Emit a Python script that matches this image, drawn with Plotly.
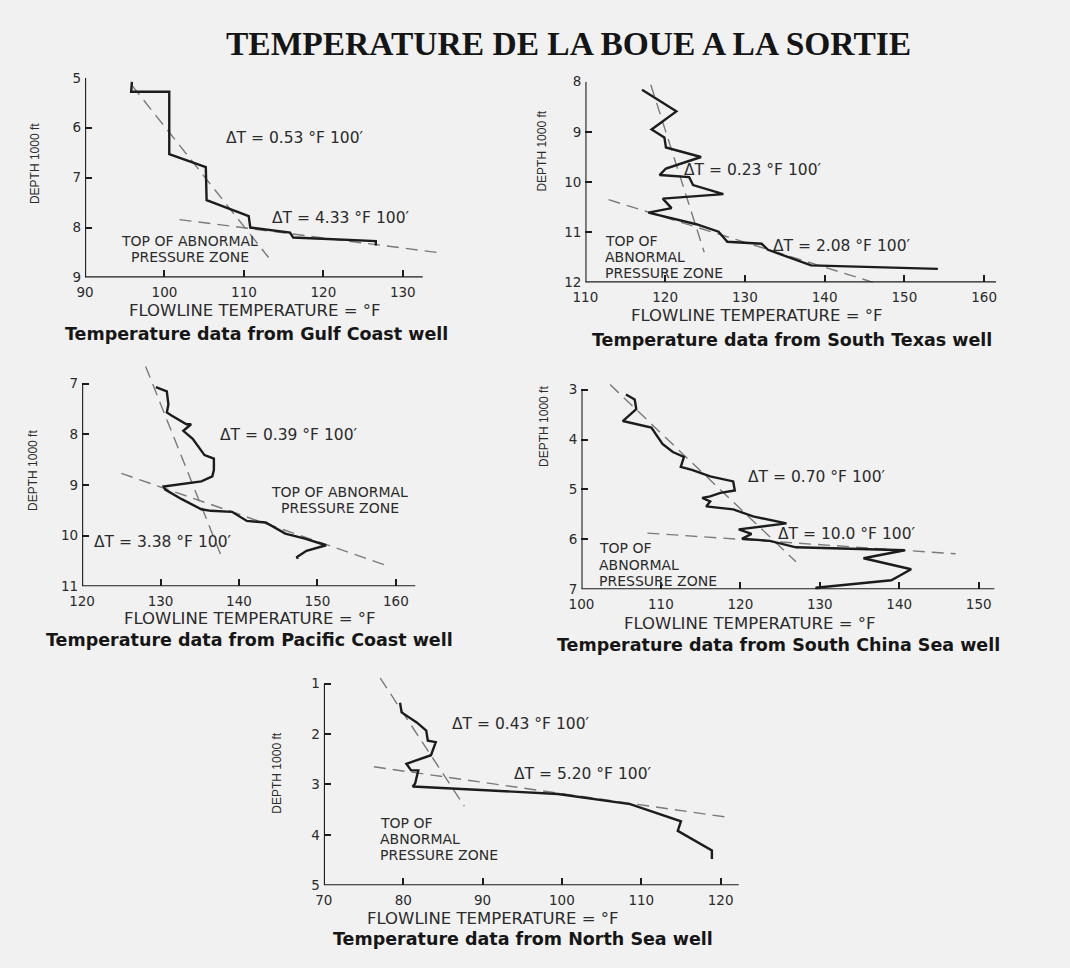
import plotly.graph_objects as go

W, H = 1070, 968

# ---------------- data ----------------
gulf_T = [95.9, 95.8, 100.6, 100.6, 105.2, 105.3, 110.6, 110.8, 115.8, 116.2, 126.6, 126.6]
gulf_D = [5.08, 5.28, 5.28, 6.53, 6.79, 7.45, 7.77, 8.00, 8.10, 8.20, 8.27, 8.36]
gulf_trend1_T = [95.9, 113.1]
gulf_trend1_D = [5.15, 8.60]
gulf_trend2_T = [101.9, 134.9]
gulf_trend2_D = [7.84, 8.51]

texas_T = [117.1, 121.4, 118.3, 119.9, 120.1, 124.5, 120.1, 119.3, 123.0, 123.5, 127.3,
           119.7, 120.8, 117.9, 123.9, 126.7, 127.8, 132.1, 132.9, 138.3, 154.2]
texas_D = [8.16, 8.59, 8.95, 9.11, 9.31, 9.50, 9.73, 9.86, 9.90, 10.06, 10.24,
           10.33, 10.52, 10.61, 10.84, 10.99, 11.19, 11.23, 11.35, 11.66, 11.73]
texas_trend1_T = [118.2, 124.9]
texas_trend1_D = [8.06, 11.40]
texas_trend2_T = [112.9, 146.1]
texas_trend2_D = [10.35, 12.0]

pacific_T = [129.4, 130.8, 131.0, 130.8, 131.4, 133.3, 133.9, 132.9, 134.1, 135.2, 135.6,
             136.8, 136.8, 136.6, 135.2, 130.4, 130.6, 132.7, 135.2, 136.4, 139.1, 141.0,
             143.4, 145.9, 148.4, 151.1, 148.6, 147.4, 147.5]
pacific_D = [7.07, 7.15, 7.41, 7.57, 7.63, 7.80, 7.80, 7.93, 8.09, 8.31, 8.41,
             8.48, 8.70, 8.83, 8.93, 9.03, 9.09, 9.28, 9.48, 9.51, 9.53, 9.71,
             9.74, 9.96, 10.06, 10.19, 10.30, 10.42, 10.46]
pacific_trend1_T = [128.1, 137.7]
pacific_trend1_D = [6.66, 10.39]
pacific_trend2_T = [125.0, 158.8]
pacific_trend2_D = [8.77, 10.59]

china_T = [105.6, 106.7, 106.9, 105.2, 108.8, 110.2, 111.5, 112.9, 112.5, 113.9, 116.2,
           119.1, 119.3, 117.5, 116.2, 115.2, 116.2, 115.7, 119.1, 121.6, 125.8, 119.8,
           121.4, 120.2, 123.7, 127.0, 140.7, 135.5, 141.5, 139.0, 129.5, 129.9]
china_D = [3.10, 3.20, 3.39, 3.63, 3.76, 4.09, 4.25, 4.35, 4.55, 4.61, 4.74,
           4.84, 5.02, 5.07, 5.14, 5.17, 5.24, 5.34, 5.40, 5.54, 5.68, 5.80,
           5.89, 5.99, 6.03, 6.16, 6.22, 6.38, 6.60, 6.82, 6.97, 7.04]
china_trend1_T = [103.6, 127.0]
china_trend1_D = [2.90, 6.45]
china_trend2_T = [108.3, 147.1]
china_trend2_D = [5.875, 6.29]

north_T = [79.6, 79.8, 81.7, 82.9, 83.1, 84.1, 83.5, 80.4, 81.0, 81.9, 81.5, 81.2,
           99.5, 108.6, 115.0, 114.6, 118.9, 118.9]
north_D = [1.38, 1.57, 1.77, 1.93, 2.13, 2.16, 2.42, 2.59, 2.72, 2.72, 2.98, 3.04,
           3.19, 3.39, 3.73, 3.92, 4.31, 4.48]
north_trend1_T = [77.1, 87.7]
north_trend1_D = [0.89, 3.43]
north_trend2_T = [76.3, 121.3]
north_trend2_D = [2.65, 3.66]

gulf_xticks = [90, 100, 110, 120, 130]
gulf_yticks = [5, 6, 7, 8, 9]
texas_xticks = [110, 120, 130, 140, 150, 160]
texas_yticks = [8, 9, 10, 11, 12]
pacific_xticks = [120, 130, 140, 150, 160]
pacific_yticks = [7, 8, 9, 10, 11]
china_xticks = [100, 110, 120, 130, 140, 150]
china_yticks = [3, 4, 5, 6, 7]
north_xticks = [70, 80, 90, 100, 110, 120]
north_yticks = [1, 2, 3, 4, 5]

title_text = "TEMPERATURE DE LA BOUE A LA SORTIE"
x_title = "FLOWLINE TEMPERATURE = °F"
y_title = "DEPTH 1000 ft"

captions = ["Temperature data from Gulf Coast well",
            "Temperature data from South Texas well",
            "Temperature data from Pacific Coast well",
            "Temperature data from South China Sea well",
            "Temperature data from North Sea well"]

gulf_dt = ["ΔT = 0.53 °F 100′", "ΔT = 4.33 °F 100′"]
texas_dt = ["ΔT = 0.23 °F 100′", "ΔT = 2.08 °F 100′"]
pacific_dt = ["ΔT = 0.39 °F 100′", "ΔT = 3.38 °F 100′"]
china_dt = ["ΔT = 0.70 °F 100′", "ΔT = 10.0 °F 100′"]
north_dt = ["ΔT = 0.43 °F 100′", "ΔT = 5.20 °F 100′"]

zone_two_lines = ["TOP OF ABNORMAL", "PRESSURE ZONE"]
zone_three_lines = ["TOP OF", "ABNORMAL", "PRESSURE ZONE"]

# ---------------- layout geometry (pixels) ----------------
panels = [
    dict(T=gulf_T, D=gulf_D, t1=(gulf_trend1_T, gulf_trend1_D), t2=(gulf_trend2_T, gulf_trend2_D),
         xt=gulf_xticks, yt=gulf_yticks, xr=(90, 132.5), xext=135.5, ytop=5.0,
         px0=73, ppx=8.05, pyt=71, ppy=50.75),
    dict(T=texas_T, D=texas_D, t1=(texas_trend1_T, texas_trend1_D), t2=(texas_trend2_T, texas_trend2_D),
         xt=texas_xticks, yt=texas_yticks, xr=(110, 161.5), xext=161.5, ytop=8.0,
         px0=580, ppx=8.08, pyt=75, ppy=51.0),
    dict(T=pacific_T, D=pacific_D, t1=(pacific_trend1_T, pacific_trend1_D), t2=(pacific_trend2_T, pacific_trend2_D),
         xt=pacific_xticks, yt=pacific_yticks, xr=(120, 162.5), xext=162.5, ytop=6.6,
         px0=70, ppx=7.95, pyt=382, ppy=51.5),
    dict(T=china_T, D=china_D, t1=(china_trend1_T, china_trend1_D), t2=(china_trend2_T, china_trend2_D),
         xt=china_xticks, yt=china_yticks, xr=(100, 152), xext=152, ytop=2.85,
         px0=576, ppx=8.05, pyt=388, ppy=50.75),
    dict(T=north_T, D=north_D, t1=(north_trend1_T, north_trend1_D), t2=(north_trend2_T, north_trend2_D),
         xt=north_xticks, yt=north_yticks, xr=(70, 122.3), xext=122.3, ytop=0.85,
         px0=315, ppx=8.04, pyt=687, ppy=51.25),
]

INK = "#1c1c1c"
TXT = "#2b2b2b"
GREY = "#7a7a7a"
BG = "#f1f1f1"

fig = go.Figure()
shapes = []
layout_axes = {}

for i, p in enumerate(panels):
    xa = "x" if i == 0 else f"x{i+1}"
    ya = "y" if i == 0 else f"y{i+1}"
    yr0, yr1 = p["yt"][0], p["yt"][-1]
    x_left = p["px0"]
    x_right = p["px0"] + (p["xext"] - p["xr"][0]) * p["ppx"]
    y_bottom = p["pyt"] + (yr1 - yr0) * p["ppy"]
    y_top = p["pyt"] - (yr0 - p["ytop"]) * p["ppy"]
    layout_axes["xaxis" if i == 0 else f"xaxis{i+1}"] = dict(
        domain=[x_left / W, x_right / W], range=[p["xr"][0], p["xext"]], anchor=ya,
        showgrid=False, zeroline=False, showline=False, ticks="inside", ticklen=7,
        tickwidth=1.6, tickcolor=INK, tickvals=p["xt"], ticklabelstandoff=5,
        tickfont=dict(family="DejaVu Sans", size=13.5, color=TXT), fixedrange=True)
    layout_axes["yaxis" if i == 0 else f"yaxis{i+1}"] = dict(
        domain=[1 - y_bottom / H, 1 - y_top / H], range=[yr1, p["ytop"]], anchor=xa,
        showgrid=False, zeroline=False, showline=False, ticks="inside", ticklen=7,
        tickwidth=1.6, tickcolor=INK, tickvals=p["yt"], ticklabelstandoff=3,
        tickfont=dict(family="DejaVu Sans", size=13.5, color=TXT), fixedrange=True)
    shapes.append(dict(type="line", xref=xa, yref=ya, x0=p["xr"][0], x1=p["xr"][1],
                       y0=yr1, y1=yr1, line=dict(color=INK, width=2.2)))
    shapes.append(dict(type="line", xref=xa, yref=ya, x0=p["xr"][0], x1=p["xr"][0],
                       y0=yr0, y1=yr1, line=dict(color=INK, width=2.2)))
    for tr in (p["t1"], p["t2"]):
        fig.add_trace(go.Scatter(x=tr[0], y=tr[1], xaxis=xa, yaxis=ya, mode="lines",
                                 line=dict(color=GREY, width=1.4, dash="12px,7px"),
                                 hoverinfo="skip", showlegend=False))
    fig.add_trace(go.Scatter(x=p["T"], y=p["D"], xaxis=xa, yaxis=ya, mode="lines",
                             line=dict(color=INK, width=2.4), showlegend=False))

annotations = []


def txt(s, px, py, size=15.5, anchor="left", font="DejaVu Sans", bold=False, color=TXT, angle=0):
    annotations.append(dict(text=s, x=px / W, y=1 - py / H, xref="paper", yref="paper",
                            xanchor=anchor, yanchor="middle", showarrow=False, textangle=angle,
                            font=dict(family=font, size=size, color=color,
                                      weight="bold" if bold else "normal")))


txt(title_text, 563, 36, size=33.5, anchor="center", font="Liberation Serif", bold=True, color="#151515")

xt_pos = [(245, 308), (754, 313), (240, 621), (747, 626), (486, 926)]
cap_pos = [(247, 331), (789, 338), (240, 643), (776, 648), (517, 947)]
yt_pos = [(23, 158), (536, 145), (20, 470), (538, 425), (268, 778)]
for i in range(5):
    txt(x_title, xt_pos[i][0], xt_pos[i][1], size=16.5, anchor="center")
    txt(captions[i], cap_pos[i][0], cap_pos[i][1], size=17.5, anchor="center", bold=True, color="#161616")
    txt(y_title, yt_pos[i][0], yt_pos[i][1], size=12, anchor="center", font="Liberation Sans", angle=-90)

txt(gulf_dt[0], 214, 132)
txt(gulf_dt[1], 260, 214)
txt(texas_dt[0], 678, 165)
txt(texas_dt[1], 768, 242)
txt(pacific_dt[0], 208, 434)
txt(pacific_dt[1], 80, 543)
txt(china_dt[0], 743, 477)
txt(china_dt[1], 773, 535)
txt(north_dt[0], 443, 728)
txt(north_dt[1], 506, 779)

ZS = 14
LS = 16.5
# two-line labels (centred)
for cx, cy in [(179, 245), (331, 500)]:
    for k, s in enumerate(zone_two_lines):
        txt(s, cx, cy + (k - 0.5) * LS, size=ZS, anchor="center")
# three-line labels (left aligned)
for lx, cy in [(598, 253), (592, 566), (370, 845)]:
    for k, s in enumerate(zone_three_lines):
        txt(s, lx, cy + (k - 1) * LS, size=ZS)

fig.update_layout(width=W, height=H, autosize=False, margin=dict(l=0, r=0, t=0, b=0),
                  paper_bgcolor=BG, plot_bgcolor="rgba(0,0,0,0)", showlegend=False,
                  shapes=shapes, annotations=annotations, **layout_axes)

fig.write_html("out.html")
